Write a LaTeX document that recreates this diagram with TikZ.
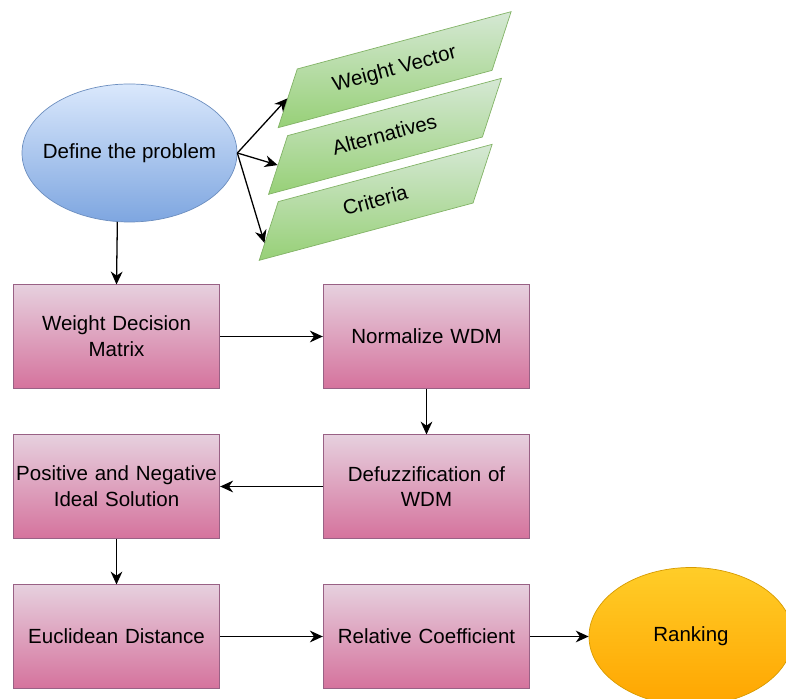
\documentclass[tikz,border=0pt]{standalone}
\usepackage{fontspec}
\setmainfont{Liberation Sans}
\usetikzlibrary{
        arrows.meta,
        shapes,
        calc,
        positioning
    }
\definecolor{pinktop}{HTML}{E6D0DE}
\definecolor{pinkbot}{HTML}{D5739D}
\definecolor{pinkline}{HTML}{996185}
\definecolor{bluetop}{HTML}{DAE8FC}
\definecolor{bluebot}{HTML}{7EA6E0}
\definecolor{blueline}{HTML}{6C8EBF}
\definecolor{greentop}{HTML}{D5E8D4}
\definecolor{greenbot}{HTML}{97D077}
\definecolor{greenline}{HTML}{82B366}
\definecolor{orangetop}{HTML}{FFCD28}
\definecolor{orangebot}{HTML}{FFA500}
\definecolor{orangeline}{HTML}{D79B00}

\begin{document}
\begin{tikzpicture}
[baseshape/.style={text centered, font=\fontsize{17.5}{22}\selectfont, line width=0.6pt},
startstop/.style={baseshape, ellipse, minimum width=6.45cm, minimum height=4.14cm, draw=blueline, top color=bluetop, bottom color=bluebot},
io/.style={baseshape, trapezium, trapezium stretches body=true, trapezium left angle=57, trapezium right angle=123, minimum width=7.65cm, text height=12.6pt, text depth=3.7pt, inner ysep=0.49cm, rotate=15, draw=greenline, top color=greentop, bottom color=greenbot},
process/.style={baseshape, rectangle, minimum width=6.2cm, minimum height=3.1cm, inner sep=1pt, text width=6.1cm, draw=pinkline, top color=pinktop, bottom color=pinkbot},
result/.style={baseshape, ellipse, minimum width=6.12cm, minimum height=4.14cm, draw=orangeline, top color=orangetop, bottom color=orangebot},
arrow/.style={line width=1.1pt, -{Stealth[length=11pt, width=10pt, inset=3.5pt]}},
node distance=4.5cm]
\clip (0,0) rectangle (23.58,-20.97);
\node (step0) [startstop] at (3.885,-4.59) {\makebox[0pt]{Define the problem}};
\node (in1) [io] at (11.84,-2.09) {Weight Vector};
\node (in2) [io] at (11.55,-4.09) {Alternatives};
\node (in3) [io] at (11.27,-6.07) {Criteria};
\node (step1) [process] at (3.495,-10.095) {Weight Decision\\Matrix};
\node (step2) [process, right of=step1, xshift=4.8cm] {Normalize WDM};
\node (step3) [process, below of=step2] {Defuzzification of\\WDM};
\node (step4) [process, below of=step1] {Positive and Negative\\Ideal Solution};
\node (step5) [process, below of=step4] {Euclidean Distance};
\node (step6) [process, below of=step3] {Relative Coefficient};
\node (step7) [result, right of=step6, xshift=3.435cm] {Ranking};
\draw[arrow] (step0.east) -- (in1.left side);
\draw[arrow] (step0.east) -- (in2.left side);
\draw[arrow] (step0.east) -- ($(in3.bottom left corner)!0.3!(in3.top left corner)$);
\draw[arrow] (step0.260) -- (step1.north);
\draw[arrow] (step1) -- (step2);
\draw[arrow] (step2) -- (step3);
\draw[arrow] (step3) -- (step4);
\draw[arrow] (step4) -- (step5);
\draw[arrow] (step5) -- (step6);
\draw[arrow] (step6) -- (step7);
\end{tikzpicture}
\end{document}
